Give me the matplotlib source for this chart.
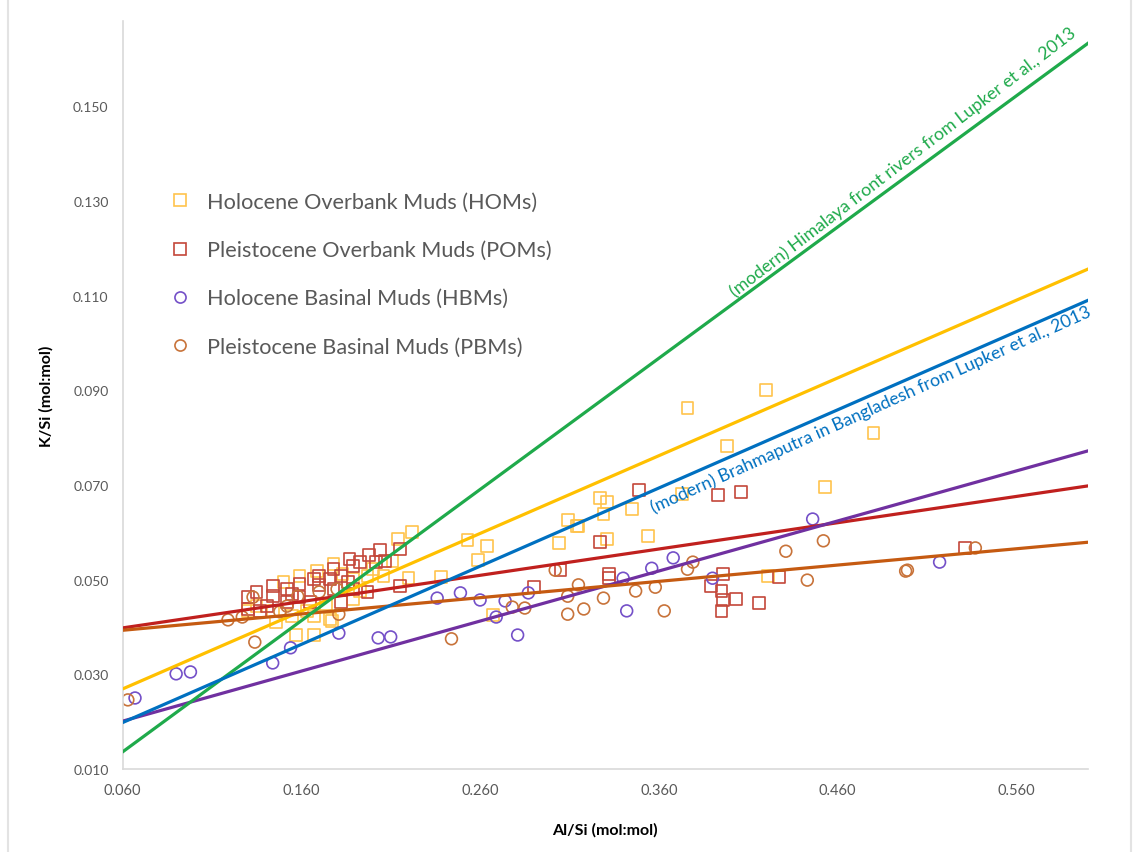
import numpy as np
import matplotlib.pyplot as plt
from matplotlib.lines import Line2D

plt.rcParams['font.family'] = ['Lato', 'DejaVu Sans']

# Holocene Overbank Muds (HOMs)
hom_al = [0.376, 0.420, 0.398, 0.480, 0.453, 0.327, 0.331, 0.329, 0.345, 0.373,
          0.309, 0.315, 0.314, 0.331, 0.354, 0.304, 0.253, 0.264, 0.259, 0.238,
          0.267, 0.421, 0.222, 0.214, 0.220, 0.157, 0.167, 0.177, 0.146, 0.189,
          0.150, 0.159, 0.169, 0.178, 0.183, 0.189, 0.197, 0.176, 0.167, 0.155,
          0.135, 0.144, 0.130, 0.206, 0.211, 0.200, 0.193, 0.163, 0.174]
hom_k = [0.0862, 0.0900, 0.0782, 0.0810, 0.0696, 0.0672, 0.0664, 0.0639, 0.0649, 0.0681,
         0.0626, 0.0613, 0.0613, 0.0586, 0.0592, 0.0577, 0.0584, 0.0571, 0.0541, 0.0505,
         0.0425, 0.0508, 0.0601, 0.0586, 0.0503, 0.0383, 0.0383, 0.0413, 0.0410, 0.0459,
         0.0495, 0.0508, 0.0518, 0.0533, 0.0512, 0.0501, 0.0508, 0.0417, 0.0423, 0.0423,
         0.0444, 0.0434, 0.0434, 0.0508, 0.0539, 0.0522, 0.0476, 0.0434, 0.0448]

# Pleistocene Overbank Muds (POMs)
pom_al = [0.349, 0.393, 0.406, 0.327, 0.305, 0.332, 0.332, 0.290, 0.396, 0.389,
          0.395, 0.396, 0.403, 0.395, 0.416, 0.427, 0.531,
          0.130, 0.135, 0.144, 0.152, 0.159, 0.167, 0.170, 0.178, 0.182, 0.187,
          0.189, 0.193, 0.198, 0.204, 0.202, 0.207, 0.215, 0.178, 0.182, 0.165,
          0.152, 0.141, 0.137, 0.159, 0.197, 0.170, 0.176, 0.186, 0.130, 0.144,
          0.155, 0.189, 0.215]
pom_k = [0.0689, 0.0679, 0.0685, 0.0579, 0.0520, 0.0512, 0.0503, 0.0484, 0.0512, 0.0486,
         0.0476, 0.0457, 0.0459, 0.0434, 0.0451, 0.0505, 0.0567,
         0.0463, 0.0474, 0.0486, 0.0480, 0.0491, 0.0501, 0.0489, 0.0522, 0.0508, 0.0544,
         0.0529, 0.0537, 0.0552, 0.0563, 0.0537, 0.0539, 0.0565, 0.0480, 0.0453, 0.0453,
         0.0453, 0.0444, 0.0434, 0.0463, 0.0474, 0.0508, 0.0501, 0.0495, 0.0438, 0.0465,
         0.0470, 0.0480, 0.0486]

# Holocene Basinal Muds (HBMs)
hbm_al = [0.236, 0.249, 0.260, 0.274, 0.287, 0.269, 0.281, 0.340, 0.356, 0.368,
          0.390, 0.342, 0.446, 0.517, 0.090, 0.098, 0.067, 0.144, 0.154, 0.181,
          0.203, 0.210]
hbm_k = [0.0461, 0.0472, 0.0457, 0.0455, 0.0472, 0.0421, 0.0383, 0.0503, 0.0524, 0.0546,
         0.0503, 0.0434, 0.0628, 0.0537, 0.0301, 0.0305, 0.0250, 0.0324, 0.0356, 0.0387,
         0.0377, 0.0379]

# Pleistocene Basinal Muds (PBMs)
pbm_al = [0.244, 0.278, 0.285, 0.309, 0.302, 0.315, 0.309, 0.318, 0.329, 0.347,
          0.358, 0.363, 0.376, 0.379, 0.431, 0.452, 0.443, 0.498, 0.499, 0.537,
          0.063, 0.134, 0.119, 0.127, 0.181, 0.133, 0.158, 0.170, 0.180, 0.152,
          0.148]
pbm_k = [0.0375, 0.0442, 0.0440, 0.0465, 0.0520, 0.0489, 0.0427, 0.0438, 0.0461, 0.0476,
         0.0484, 0.0434, 0.0522, 0.0537, 0.0560, 0.0582, 0.0499, 0.0518, 0.0520, 0.0567,
         0.0246, 0.0368, 0.0415, 0.0421, 0.0427, 0.0463, 0.0465, 0.0474, 0.0480, 0.0444,
         0.0432]

# trend lines, K/Si read at the two ends of the Al/Si axis
trend_al = [0.06, 0.60]
hom_fit = [0.0269, 0.1156]
pom_fit = [0.0398, 0.0698]
hbm_fit = [0.0201, 0.0772]
pbm_fit = [0.0393, 0.0579]
himalaya_fit = [0.0136, 0.1633]
brahma_fit = [0.0198, 0.1090]

labels = ['Holocene Overbank Muds (HOMs)', 'Pleistocene Overbank Muds (POMs)',
          'Holocene Basinal Muds (HBMs)', 'Pleistocene Basinal Muds (PBMs)']
x_ticks = [0.06, 0.16, 0.26, 0.36, 0.46, 0.56]
y_ticks = [0.01, 0.03, 0.05, 0.07, 0.09, 0.11, 0.13, 0.15]

fig = plt.figure(figsize=(11.36, 8.53), dpi=100)
ax = fig.add_axes([122.5 / 1136, 1 - 770 / 853, (1088 - 122.5) / 1136, (770 - 22) / 853])

msz = 72
ax.scatter(hom_al, hom_k, s=msz, marker='s', facecolors='none', edgecolors='#FFC34D', linewidths=1.2, zorder=2)
ax.scatter(pom_al, pom_k, s=msz, marker='s', facecolors='none', edgecolors='#C4473A', linewidths=1.2, zorder=2)
ax.scatter(hbm_al, hbm_k, s=msz, marker='o', facecolors='none', edgecolors='#7450C8', linewidths=1.2, zorder=2)
ax.scatter(pbm_al, pbm_k, s=msz, marker='o', facecolors='none', edgecolors='#C8733A', linewidths=1.2, zorder=2)

lw = 2.3
ax.plot(trend_al, hom_fit, color='#FFC000', lw=lw, zorder=3)
ax.plot(trend_al, pom_fit, color='#C0201E', lw=lw, zorder=3)
ax.plot(trend_al, hbm_fit, color='#7030A0', lw=lw, zorder=3)
ax.plot(trend_al, pbm_fit, color='#C55A11', lw=lw, zorder=3)
ax.plot(trend_al, himalaya_fit, color='#1FAA4B', lw=lw, zorder=3)
ax.plot(trend_al, brahma_fit, color='#0070C0', lw=lw, zorder=3)

ax.set_xlim(0.06, 0.60)
ax.set_ylim(0.01, 0.168)

# line labels rotated along their lines
def angle_of(xs, ys):
    p = ax.transData.transform(np.column_stack([xs, ys]))
    return np.degrees(np.arctan2(p[1, 1] - p[0, 1], p[1, 0] - p[0, 0]))

def on_line(xs, ys, x):
    return ys[0] + (ys[1] - ys[0]) * (x - xs[0]) / (xs[1] - xs[0])

ang_g = angle_of(trend_al, himalaya_fit)
ang_b = angle_of(trend_al, brahma_fit)
ax.text(0.4035, on_line(trend_al, himalaya_fit, 0.4035) + 0.0004,
        '(modern) Himalaya front rivers from Lupker et al., 2013',
        color='#1FAA4B', fontsize=12.8, rotation=ang_g + 1.2, rotation_mode='anchor',
        ha='left', va='bottom')
ax.text(0.354, on_line(trend_al, brahma_fit, 0.354) - 0.0015,
        '(modern) Brahmaputra in Bangladesh from Lupker et al., 2013',
        color='#0070C0', fontsize=12.8, rotation=ang_b + 0.6, rotation_mode='anchor',
        ha='left', va='top')

ax.set_xticks(x_ticks)
ax.set_xticklabels(['%.3f' % v for v in x_ticks])
ax.set_yticks(y_ticks)
ax.set_yticklabels(['%.3f' % v for v in y_ticks])
ax.tick_params(length=0, colors='#595959', labelsize=10)
ax.tick_params(axis='y', pad=10)
ax.tick_params(axis='x', pad=10, labelsize=10.5)
for s in ['top', 'right']:
    ax.spines[s].set_visible(False)
for s in ['left', 'bottom']:
    ax.spines[s].set_color('#D9D9D9')
    ax.spines[s].set_linewidth(1.2)

ax.set_xlabel('Al/Si (mol:mol)', fontsize=11.5, fontweight='bold', labelpad=18)
ax.set_ylabel('K/Si (mol:mol)', fontsize=11.5, fontweight='bold', labelpad=14)

handles = [
    Line2D([], [], ls='none', marker='s', ms=8, mfc='none', mec='#FFC34D', mew=1.2),
    Line2D([], [], ls='none', marker='s', ms=8, mfc='none', mec='#C4473A', mew=1.2),
    Line2D([], [], ls='none', marker='o', ms=8, mfc='none', mec='#7450C8', mew=1.2),
    Line2D([], [], ls='none', marker='o', ms=8, mfc='none', mec='#C8733A', mew=1.2),
]
leg = ax.legend(handles, labels, loc='upper left', bbox_to_anchor=(169 / 1136, 1 - 193 / 853),
                bbox_transform=fig.transFigure, frameon=False, fontsize=15.6, labelspacing=1.3,
                handlelength=1.0, handletextpad=0.75, borderpad=0, borderaxespad=0)
for t in leg.get_texts():
    t.set_color('#595959')

# thin frame at the image edges
fig.add_artist(Line2D([8 / 1136, 8 / 1136], [0, 1], color='#E3E3E3', lw=1.5))
fig.add_artist(Line2D([1131 / 1136, 1131 / 1136], [0, 1], color='#E3E3E3', lw=1.5))

fig.savefig('out.png', dpi=100)
